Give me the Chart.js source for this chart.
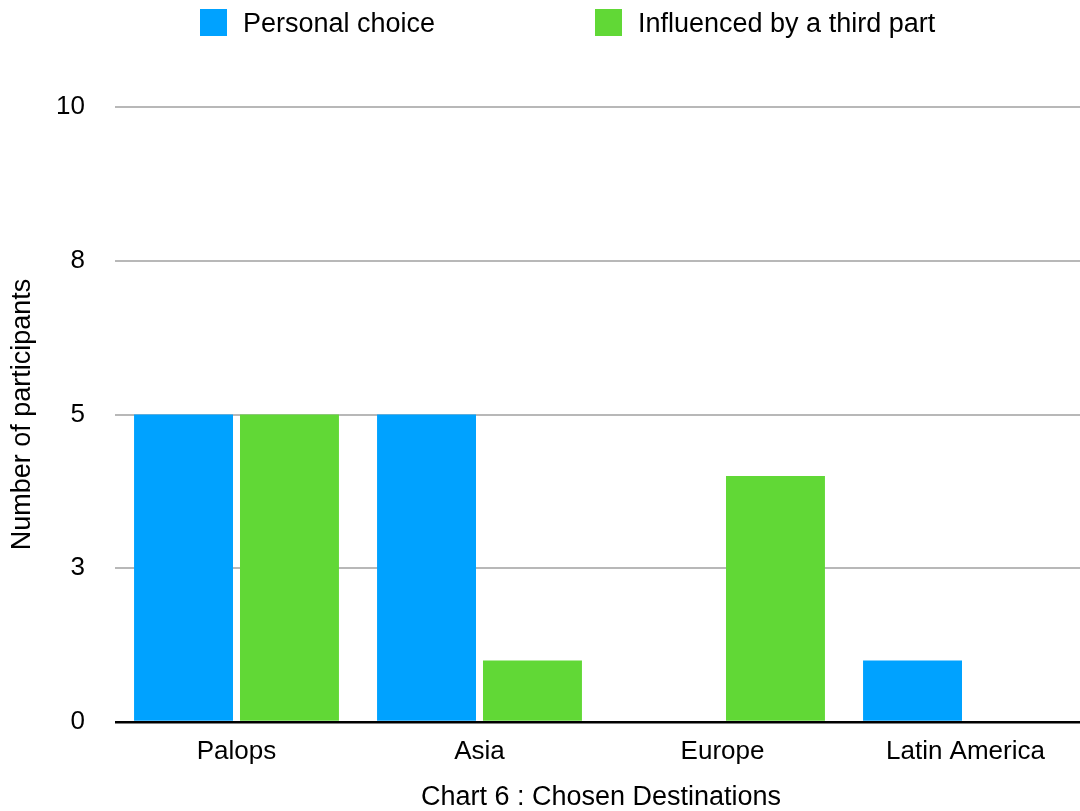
<!DOCTYPE html>
<html>
<head>
<meta charset="utf-8">
<script src="https://cdn.jsdelivr.net/npm/chart.js@4/dist/chart.umd.min.js"></script>
<style>
  html, body { margin: 0; padding: 0; background: #fff; overflow: hidden; }
  #wrap { width: 1087px; height: 811px; }
</style>
</head>
<body>
<div id="wrap"><canvas id="chart" width="1087" height="811"></canvas></div>
<script>
const categories = ['Palops', 'Asia', 'Europe', 'Latin America'];
const personalChoice = [5, 5, 0, 1];
const thirdPartInfluence = [5, 1, 4, 0];
const seriesLabels = ['Personal choice', 'Influenced by a third part'];
const seriesColors = ['#00A2FF', '#61D836'];
const yTicks = [0, 2.5, 5, 7.5, 10];

const fontFamily = '"Liberation Sans", Arial, Helvetica, sans-serif';
const legendSlots = [200, 595];

const topLegend = {
  id: 'topLegend',
  afterDraw: chart => {
    const ctx = chart.ctx;
    ctx.save();
    ctx.font = `27px ${fontFamily}`;
    ctx.textBaseline = 'middle';
    ctx.textAlign = 'left';
    chart.data.datasets.forEach((dataset, i) => {
      const x = legendSlots[i];
      ctx.fillStyle = dataset.backgroundColor;
      ctx.fillRect(x, 9, 27, 27);
      ctx.fillStyle = '#000';
      ctx.fillText(dataset.label, x + 43, 25);
    });
    ctx.restore();
  }
};

const ctx = document.getElementById('chart').getContext('2d');

new Chart(ctx, {
  type: 'bar',
  data: {
    labels: categories,
    datasets: [
      { label: seriesLabels[0], data: personalChoice, backgroundColor: seriesColors[0] },
      { label: seriesLabels[1], data: thirdPartInfluence, backgroundColor: seriesColors[1] }
    ]
  },
  options: {
    responsive: false,
    animation: false,
    layout: { padding: { top: 107, left: 0, right: 0, bottom: 0 } },
    categoryPercentage: 0.872,
    barPercentage: 0.934,
    plugins: {
      legend: { display: false },
      tooltip: { enabled: false }
    },
    scales: {
      x: {
        grid: { display: false, drawTicks: false },
        border: { display: false },
        ticks: {
          color: '#000',
          padding: 14,
          font: { family: fontFamily, size: 26 }
        },
        title: {
          display: true,
          text: 'Chart 6 : Chosen Destinations',
          color: '#000',
          font: { family: fontFamily, size: 27, lineHeight: 1 },
          padding: { top: 0, bottom: 0 }
        },
        afterFit: scale => { scale.height = 89; }
      },
      y: {
        min: 0,
        max: 10,
        afterBuildTicks: scale => {
          scale.ticks = yTicks.map(value => ({ value }));
        },
        grid: {
          drawTicks: false,
          color: c => (c.tick && c.tick.value === 0 ? '#000' : '#b8b8b8'),
          lineWidth: c => (c.tick && c.tick.value === 0 ? 2.5 : 2)
        },
        border: { display: false },
        ticks: {
          color: '#000',
          padding: 30,
          font: { family: fontFamily, size: 26 },
          callback: value => Math.round(value)
        },
        title: {
          display: true,
          text: 'Number of participants',
          color: '#000',
          font: { family: fontFamily, size: 27, lineHeight: 1 },
          padding: { top: 9, bottom: 0 }
        },
        afterFit: scale => { scale.width = 115; }
      }
    }
  },
  plugins: [topLegend]
});
</script>
</body>
</html>
